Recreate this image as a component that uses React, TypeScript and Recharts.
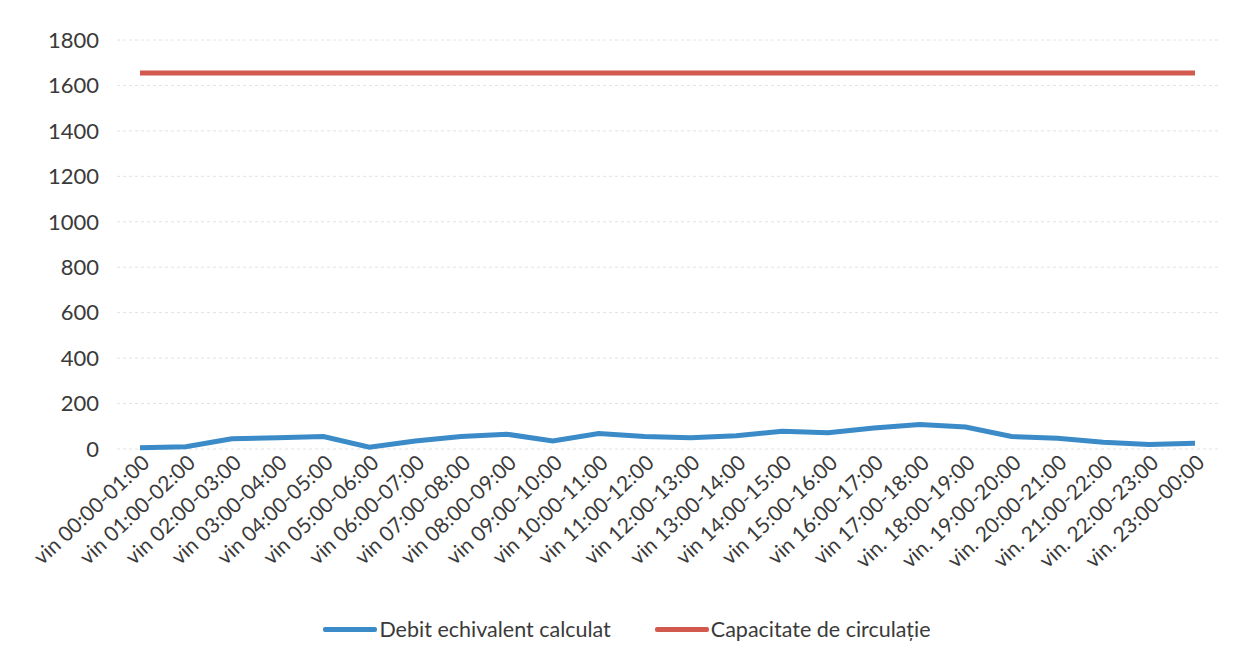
import { LineChart, Line, XAxis, YAxis, CartesianGrid, Legend } from "recharts";

// ---------------------------------------------------------------------------
// Data
// ---------------------------------------------------------------------------

const intervals = [
  "vin 00:00-01:00",
  "vin 01:00-02:00",
  "vin 02:00-03:00",
  "vin 03:00-04:00",
  "vin 04:00-05:00",
  "vin 05:00-06:00",
  "vin 06:00-07:00",
  "vin 07:00-08:00",
  "vin 08:00-09:00",
  "vin 09:00-10:00",
  "vin 10:00-11:00",
  "vin 11:00-12:00",
  "vin 12:00-13:00",
  "vin 13:00-14:00",
  "vin 14:00-15:00",
  "vin 15:00-16:00",
  "vin 16:00-17:00",
  "vin 17:00-18:00",
  "vin. 18:00-19:00",
  "vin. 19:00-20:00",
  "vin. 20:00-21:00",
  "vin. 21:00-22:00",
  "vin. 22:00-23:00",
  "vin. 23:00-00:00",
];

const debitEchivalent = [
  5, 10, 45, 50, 55, 8, 35, 55, 65, 35, 68, 55, 50, 58, 78, 72, 92, 108, 97, 55, 47,
  30, 20, 25,
];

const capacitate = [
  1655, 1655, 1655, 1655, 1655, 1655, 1655, 1655, 1655, 1655, 1655, 1655, 1655, 1655,
  1655, 1655, 1655, 1655, 1655, 1655, 1655, 1655, 1655, 1655,
];

const yTicks = [0, 200, 400, 600, 800, 1000, 1200, 1400, 1600, 1800];

const rows = intervals.map((interval, i) => ({
  interval,
  debit: debitEchivalent[i],
  capacitate: capacitate[i],
}));

const BLUE = "#3b8bc8";
const RED = "#d2594d";
const TEXT = "#3a3a3a";
const FONT = "Lato, 'Liberation Sans', sans-serif";

// ---------------------------------------------------------------------------
// Pieces
// ---------------------------------------------------------------------------

function SlantedTick({ x, y, payload }: any) {
  const ax = x + 4;
  const ay = y;
  return (
    <text
      x={ax}
      y={ay}
      dy={10}
      textAnchor="end"
      fill={TEXT}
      fontSize={21}
      fontFamily={FONT}
      transform={`rotate(-43, ${ax}, ${ay})`}
    >
      {payload.value}
    </text>
  );
}

const legendItems = [
  { label: "Debit echivalent calculat", color: BLUE },
  { label: "Capacitate de circulație", color: RED },
];

function LegendRow() {
  return (
    <div
      style={{
        display: "flex",
        justifyContent: "center",
        alignItems: "center",
        gap: 44,
        height: 30,
        fontFamily: FONT,
        fontSize: 21.5,
        color: TEXT,
        paddingLeft: 36,
      }}
    >
      {legendItems.map((item) => (
        <div key={item.label} style={{ display: "flex", alignItems: "center" }}>
          <span
            style={{
              display: "inline-block",
              width: 54,
              height: 5,
              borderRadius: 2,
              background: item.color,
              marginRight: 2,
            }}
          />
          <span>{item.label}</span>
        </div>
      ))}
    </div>
  );
}

// ---------------------------------------------------------------------------
// Chart
// ---------------------------------------------------------------------------

export default function App() {
  return (
    <div style={{ position: "absolute", left: 0, top: 0, background: "#fff" }}>
      <LineChart
        width={1239}
        height={657}
        data={rows}
        margin={{ top: 40, right: 21, bottom: 13, left: 0 }}
      >
        <CartesianGrid stroke="#e2e2e2" strokeDasharray="3 3" vertical={false} />
        <XAxis
          dataKey="interval"
          interval={0}
          axisLine={false}
          tickLine={false}
          padding={{ left: 23, right: 23 }}
          height={165}
          tick={<SlantedTick />}
        />
        <YAxis
          domain={[0, 1800]}
          ticks={yTicks}
          width={117}
          axisLine={false}
          tickLine={false}
          tickMargin={12}
          tick={{ fill: TEXT, fontSize: 22, fontFamily: FONT }}
        />
        <Legend verticalAlign="bottom" content={<LegendRow />} />
        <Line
          type="linear"
          dataKey="debit"
          name="Debit echivalent calculat"
          stroke={BLUE}
          strokeWidth={5}
          dot={false}
          isAnimationActive={false}
        />
        <Line
          type="linear"
          dataKey="capacitate"
          name="Capacitate de circulație"
          stroke={RED}
          strokeWidth={5}
          dot={false}
          isAnimationActive={false}
        />
      </LineChart>
    </div>
  );
}
